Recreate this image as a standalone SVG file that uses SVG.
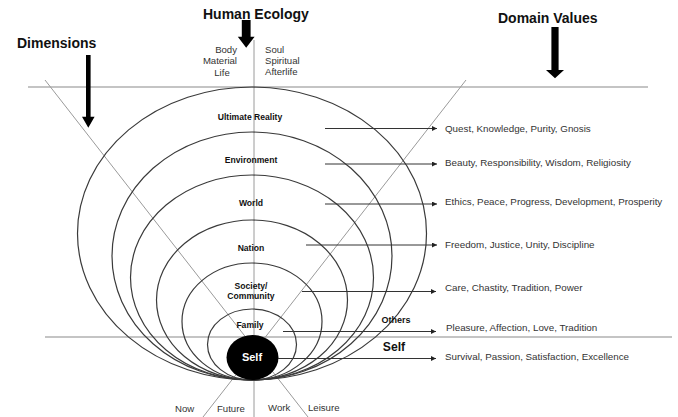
<svg xmlns="http://www.w3.org/2000/svg" width="678" height="417" viewBox="0 0 678 417">
<defs>
<style>
.ring{fill:none;stroke:#3a3a3a;stroke-width:1.2}
.guide{fill:none;stroke:#9a9a9a;stroke-width:1}
.hline{fill:none;stroke:#8a8a8a;stroke-width:1.1}
.conn{fill:none;stroke:#333;stroke-width:1}
.lbl{font-family:"Liberation Sans",Arial,sans-serif;font-weight:bold;font-size:8.6px;fill:#111;text-anchor:middle}
.head{font-family:"Liberation Sans",Arial,sans-serif;font-weight:bold;font-size:14px;fill:#111}
.small{font-family:"Liberation Sans",Arial,sans-serif;font-size:9.6px;fill:#333}
.val{font-family:"Liberation Sans",Arial,sans-serif;font-size:9.8px;fill:#333}
.blk{fill:#000}
</style>
<marker id="tip" viewBox="0 0 6 6" refX="6" refY="3" markerWidth="6" markerHeight="5" markerUnits="userSpaceOnUse" orient="auto">
<path d="M0,0 L6,3 L0,6 z" fill="#222"/>
</marker>
</defs>
<rect width="678" height="417" fill="#fff"/>

<g id="guides">
<line class="hline" x1="28" y1="87" x2="648" y2="87"/>
<line class="hline" x1="45" y1="337" x2="672" y2="337"/>
<line class="guide" x1="254" y1="40" x2="254" y2="417"/>
<line class="guide" x1="45" y1="80" x2="308" y2="417"/>
<line class="guide" x1="466" y1="80" x2="203" y2="417"/>
</g>

<g id="ultimate-reality">
<ellipse class="ring" cx="252" cy="233.5" rx="174.5" ry="146.5"/>
<text class="lbl" x="250" y="120">Ultimate Reality</text>
</g>
<g id="environment">
<ellipse class="ring" cx="252" cy="256" rx="140" ry="124"/>
<text class="lbl" x="251" y="163">Environment</text>
</g>
<g id="world">
<ellipse class="ring" cx="252" cy="277.5" rx="121.5" ry="102.5"/>
<text class="lbl" x="251" y="206">World</text>
</g>
<g id="nation">
<ellipse class="ring" cx="252" cy="300" rx="95.5" ry="80"/>
<text class="lbl" x="251" y="251">Nation</text>
</g>
<g id="society">
<ellipse class="ring" cx="252" cy="321.5" rx="70" ry="58.5"/>
<text class="lbl" x="251" y="289">Society/</text>
<text class="lbl" x="251" y="299">Community</text>
</g>
<g id="family">
<ellipse class="ring" cx="252" cy="344.5" rx="44.5" ry="35.5"/>
<text class="lbl" x="250" y="328">Family</text>
</g>
<g id="self">
<ellipse cx="252.5" cy="357.5" rx="26" ry="22.5" fill="#000"/>
<text class="lbl" x="252" y="361" style="fill:#fff;font-size:11px">Self</text>
</g>

<g id="human-ecology">
<text class="head" x="203" y="19">Human Ecology</text>
<polygon class="blk" points="241.8,20 250.6,20 250.6,36.7 254.6,36.7 246.2,47.7 237.8,36.7 241.8,36.7"/>
<text class="small" x="237" y="53" text-anchor="end">Body</text>
<text class="small" x="237" y="64" text-anchor="end">Material</text>
<text class="small" x="222" y="76" text-anchor="middle">Life</text>
<text class="small" x="265" y="53">Soul</text>
<text class="small" x="265" y="64">Spiritual</text>
<text class="small" x="265" y="75">Afterlife</text>
</g>
<g id="dimensions">
<text class="head" x="17" y="47.5">Dimensions</text>
<polygon class="blk" points="86,55 90.6,55 90.6,116.7 94.6,116.7 88.3,127.7 82,116.7 86,116.7"/>
</g>
<g id="domain-values">
<text class="head" x="498" y="23">Domain Values</text>
<polygon class="blk" points="551.4,27 558.6,27 558.6,70 564,70 555,78.3 546,70 551.4,70"/>
</g>

<g id="others-self">
<text class="lbl" x="396" y="323" text-anchor="start" style="font-size:9px">Others</text>
<text class="lbl" x="394" y="351" text-anchor="start" style="font-size:12.2px">Self</text>
</g>

<g id="time-labels">
<text class="small" x="175" y="412">Now</text>
<text class="small" x="217" y="412">Future</text>
<text class="small" x="268" y="411">Work</text>
<text class="small" x="308" y="411">Leisure</text>
</g>

<g id="connectors">
<line class="conn" x1="325" y1="128.5" x2="437" y2="128.5" marker-end="url(#tip)"/>
<line class="conn" x1="325" y1="164" x2="437" y2="164" marker-end="url(#tip)"/>
<line class="conn" x1="325" y1="204" x2="437" y2="204" marker-end="url(#tip)"/>
<line class="conn" x1="306" y1="245" x2="437" y2="245" marker-end="url(#tip)"/>
<line class="conn" x1="302" y1="291.5" x2="436" y2="291.5" marker-end="url(#tip)"/>
<line class="conn" x1="283" y1="331.5" x2="436" y2="331.5" marker-end="url(#tip)"/>
<line class="conn" x1="278" y1="358.5" x2="436" y2="358.5" marker-end="url(#tip)"/>
</g>

<g id="domain-value-texts">
<text class="val" x="445" y="131.5">Quest, Knowledge, Purity, Gnosis</text>
<text class="val" x="445" y="166">Beauty, Responsibility, Wisdom, Religiosity</text>
<text class="val" x="445" y="204.5">Ethics, Peace, Progress, Development, Prosperity</text>
<text class="val" x="445" y="247.5">Freedom, Justice, Unity, Discipline</text>
<text class="val" x="445" y="290.5">Care, Chastity, Tradition, Power</text>
<text class="val" x="446" y="331">Pleasure, Affection, Love, Tradition</text>
<text class="val" x="445" y="360">Survival, Passion, Satisfaction, Excellence</text>
</g>
</svg>
